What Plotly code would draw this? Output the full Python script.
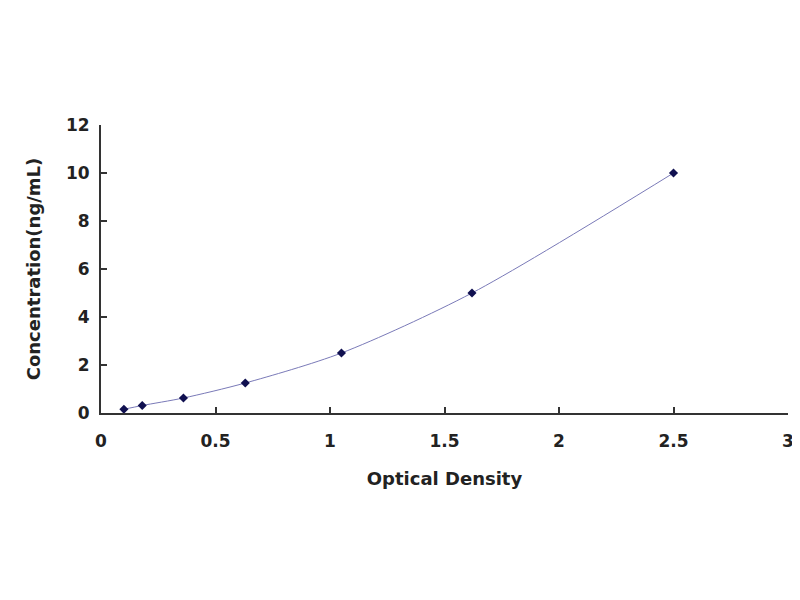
import plotly.graph_objects as go

optical_density = [0.10, 0.18, 0.36, 0.63, 1.05, 1.62, 2.50]
concentration = [0.156, 0.312, 0.625, 1.25, 2.5, 5.0, 10.0]

x_ticks = [0, 0.5, 1, 1.5, 2, 2.5, 3]
x_tick_text = ['0', '0.5', '1', '1.5', '2', '2.5', '3']
y_ticks = [0, 2, 4, 6, 8, 10, 12]

tick_font = dict(family='DejaVu Sans, sans-serif', size=17, color='#222222', weight='bold')
title_font = dict(family='DejaVu Sans, sans-serif', size=18, color='#222222', weight='bold')

fig = go.Figure()
fig.add_trace(go.Scatter(
    x=optical_density, y=concentration,
    mode='lines+markers',
    line=dict(color='#7a7ab8', width=1, shape='spline', smoothing=0.8),
    marker=dict(symbol='diamond', size=7, color='#101050'),
    showlegend=False,
))

# page body has an 8px margin, so the figure is shrunk to fit the window
fig.update_layout(
    width=792, height=592,
    paper_bgcolor='white', plot_bgcolor='white',
    margin=dict(l=93, r=12, t=117, b=187),
    font=tick_font,
    xaxis=dict(
        range=[0, 3], tickvals=x_ticks, ticktext=x_tick_text,
        showgrid=False, zeroline=False, automargin=False,
        showline=True, linecolor='#333333', linewidth=2,
        ticks='inside', ticklen=6, tickwidth=2, tickcolor='#333333',
        tickfont=tick_font, ticklabelstandoff=12,
        title=dict(text='Optical Density', font=title_font, standoff=22),
    ),
    yaxis=dict(
        range=[0, 12], tickvals=y_ticks,
        showgrid=False, zeroline=False, automargin=False,
        showline=True, linecolor='#333333', linewidth=2,
        ticks='inside', ticklen=6, tickwidth=2, tickcolor='#333333',
        tickfont=tick_font, ticklabelstandoff=6,
        title=dict(text='Concentration(ng/mL)', font=title_font, standoff=21),
    ),
)

fig.write_html('out.html')
